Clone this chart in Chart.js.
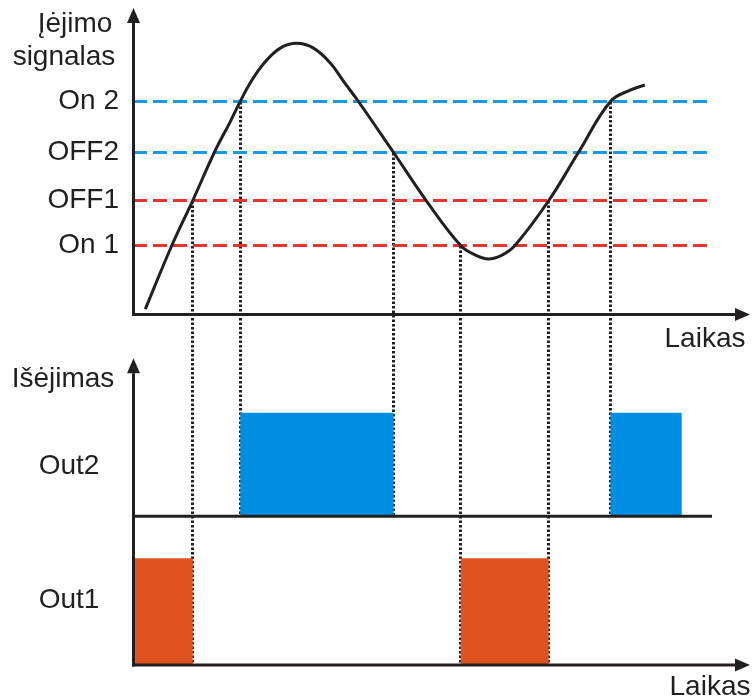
<!DOCTYPE html>
<html lang="lt">
<head>
<meta charset="utf-8">
<title>Histerezė</title>
<script src="https://cdn.jsdelivr.net/npm/chart.js@4.4.1/dist/chart.umd.min.js"></script>
<style>
  html,body{margin:0;padding:0;background:#fff;}
  #wrap{width:753px;height:698px;}
</style>
</head>
<body>
<div id="wrap"><canvas id="c" width="753" height="698"></canvas></div>
<script>
// input signal: time / level
const SIGNAL_T = [2, 6.3, 9.7, 13.2, 15.8, 17.4, 19.0, 21.2, 23.9, 26.6, 29.3, 32, 34.4, 36.6, 42.3, 47.6, 53.2, 55.6, 57.7, 59.9, 62, 67.5, 72.3, 77.5, 80.7, 83.1];
const SIGNAL_V = [1.8, 23, 38, 54, 64.3, 71, 77.1, 83.6, 88.8, 90.4, 88.8, 83.9, 77.1, 71, 54, 38, 23, 19.8, 18.5, 19.8, 23, 38, 54, 71, 74.8, 76.5];

// switching levels
const LEVEL_NAMES  = ['On 1', 'OFF1', 'OFF2', 'On 2'];
const LEVEL_VALUES = [23, 38, 54, 71];
const LEVEL_END = 93.7;

// outputs as steps: state from that time on
const OUT2_T = [0, 17.4, 42.3, 77.5, 89.1];
const OUT2_S = [0, 1, 0, 1, 0];
const OUT1_T = [0, 9.7, 53.2, 67.5];
const OUT1_S = [1, 0, 1, 0];

// dotted guides: switch time, level crossed, output driven
const SWITCH_T   = [9.7, 17.4, 42.3, 53.2, 67.5, 77.5];
const SWITCH_LVL = [38, 71, 54, 23, 38, 71];
const SWITCH_OUT = [1, 2, 2, 1, 1, 2];

const INK = '#231f20';
const RED_DASH = '#e3352b', BLUE_DASH = '#1a99e2';
const BLUE_FILL = '#008ee0', ORANGE_FILL = '#e0521f';
const FONT = '"Liberation Sans", Arial, sans-serif';
const FS = 28;

const pts = (xs, ys) => xs.map((x, i) => ({x, y: ys[i]}));

function arrow(ctx, x1, y1, x2, y2){
  const a = Math.atan2(y2 - y1, x2 - x1), L = 15, W = 6.5;
  const bx = x2 - L * Math.cos(a), by = y2 - L * Math.sin(a);
  ctx.beginPath(); ctx.moveTo(x1, y1); ctx.lineTo(bx, by); ctx.stroke();
  ctx.beginPath();
  ctx.moveTo(x2, y2);
  ctx.lineTo(bx - W * Math.sin(a), by + W * Math.cos(a));
  ctx.lineTo(bx + W * Math.sin(a), by - W * Math.cos(a));
  ctx.closePath(); ctx.fill();
}

const guides = {
  id: 'guides',
  beforeDatasetsDraw(chart){
    const {ctx, scales:{x, ySig, yOut1, yOut2}} = chart;
    ctx.save();
    ctx.strokeStyle = INK; ctx.lineWidth = 3; ctx.setLineDash([2.5, 2]);
    SWITCH_T.forEach((t, i) => {
      const px = Math.floor(x.getPixelForValue(t)) + 0.5;
      const out = SWITCH_OUT[i] === 1 ? yOut1 : yOut2;
      ctx.beginPath();
      ctx.moveTo(px, Math.round(ySig.getPixelForValue(SWITCH_LVL[i])));
      ctx.lineTo(px, out.getPixelForValue(0));
      ctx.stroke();
    });
    ctx.restore();
  }
};

const frame = {
  id: 'frame',
  afterDatasetsDraw(chart){
    const {ctx, chartArea:ca, scales:{x, ySig, yOut1, yOut2}} = chart;
    const x0 = ca.left + 0.5;
    const sig0 = ySig.getPixelForValue(0);
    const out1 = yOut1.getPixelForValue(0), out2 = yOut2.getPixelForValue(0);
    ctx.save();
    ctx.strokeStyle = INK; ctx.fillStyle = INK; ctx.lineWidth = 3; ctx.lineCap = 'butt';
    arrow(ctx, x0, sig0 + 1.5, x0, ca.top);
    arrow(ctx, x0 - 1.5, sig0, ca.right + 1, sig0);
    arrow(ctx, x0, out1 + 1.5, x0, yOut2.getPixelForValue(1.525));
    arrow(ctx, x0 - 1.5, out1, ca.right + 1, out1);
    ctx.beginPath(); ctx.moveTo(x0, out2); ctx.lineTo(x.getPixelForValue(94), out2); ctx.stroke();

    ctx.font = FS + 'px ' + FONT;
    ctx.textAlign = 'center'; ctx.textBaseline = 'alphabetic';
    ctx.fillText('Įėjimo', 75, 31.7);
    ctx.fillText('signalas', 64, 65);
    ctx.fillText('Laikas', 705, sig0 + 32);
    ctx.fillText('Išėjimas', 63, 386.7);
    ctx.textBaseline = 'middle';
    ctx.fillText('Out2', 69, yOut2.getPixelForValue(0.48));
    ctx.fillText('Out1', 69, yOut1.getPixelForValue(0.61));
    ctx.textBaseline = 'alphabetic';
    ctx.fillText('Laikas', 710, out1 + 30);
    ctx.restore();
  }
};

const levelSets = LEVEL_VALUES.map((v, i) => ({
  label: LEVEL_NAMES[i],
  data: [{x: 0, y: v}, {x: LEVEL_END, y: v}],
  yAxisID: 'ySig',
  borderColor: i < 2 ? RED_DASH : BLUE_DASH,
  borderWidth: 3,
  borderDash: [14, 6],
  pointRadius: 0,
  order: 1
}));

new Chart(document.getElementById('c'), {
  type: 'line',
  data: {
    datasets: [
      {label: 'signal', data: pts(SIGNAL_T, SIGNAL_V), yAxisID: 'ySig',
       borderColor: INK, borderWidth: 3, pointRadius: 0,
       tension: 0.4, order: 0},
      ...levelSets,
      {label: 'Out2', data: pts(OUT2_T, OUT2_S), yAxisID: 'yOut2', stepped: true,
       fill: 'origin', backgroundColor: BLUE_FILL, borderColor: 'rgba(0,0,0,0)',
       borderWidth: 0, pointRadius: 0, order: 2},
      {label: 'Out1', data: pts(OUT1_T, OUT1_S), yAxisID: 'yOut1', stepped: true,
       fill: 'origin', backgroundColor: ORANGE_FILL, borderColor: 'rgba(0,0,0,0)',
       borderWidth: 0, pointRadius: 0, order: 2}
    ]
  },
  options: {
    responsive: false,
    animation: false,
    events: [],
    layout: {autoPadding: false, padding: {left: 0, right: 4, top: 8, bottom: 33}},
    plugins: {legend: {display: false}, tooltip: {enabled: false}},
    scales: {
      x: {type: 'linear', min: 0, max: 100, display: false},
      ySig: {
        type: 'linear', position: 'left', min: -116.83, max: 102.17,
        grid: {display: false, drawTicks: false}, border: {display: false},
        afterBuildTicks: s => { s.ticks = LEVEL_VALUES.map(v => ({value: v})); },
        ticks: {autoSkip: false, padding: 14, color: INK, font: {family: FONT, size: FS},
                callback: (v, i) => LEVEL_NAMES[i]},
        afterFit: s => { s.width = 133; s.paddingTop = 0; s.paddingBottom = 0; }
      },
      yOut1: {type: 'linear', position: 'left', min: 0, max: 6.157, display: false},
      yOut2: {type: 'linear', position: 'left', min: -1.435, max: 4.906, display: false}
    }
  },
  plugins: [guides, frame]
});
</script>
</body>
</html>
